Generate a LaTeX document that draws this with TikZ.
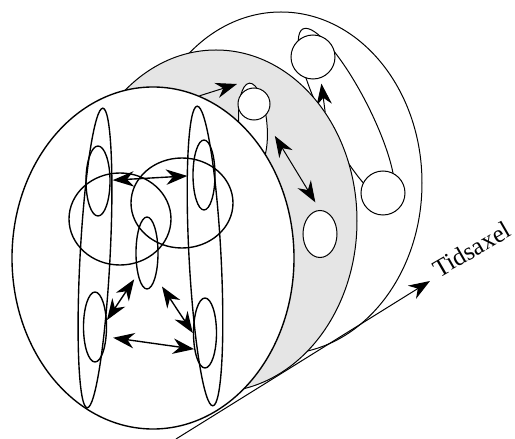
\documentclass[tikz,border=0pt]{standalone}
\usepackage{fontspec}
\setmainfont{Liberation Serif}
\usetikzlibrary{shapes.geometric,arrows.meta}
\pgfdeclarelayer{back}
\pgfdeclarelayer{mid}
\pgfsetlayers{back,mid,main}
\begin{document}
\begin{tikzpicture}[x=0.4pt,y=-0.4pt,line width=0.55pt,
  ell/.style 2 args={ellipse,draw,inner sep=0pt,minimum width=#1*0.8pt,minimum height=#2*0.8pt},
  disc/.style={ell={141}{171},fill=white},
  spot/.style={ell={#1}{#1},fill=white},
  arr/.style={{Stealth[length=8.5pt,width=6.2pt]}-{Stealth[length=8.5pt,width=6.2pt]}},
  arrone/.style={-{Stealth[length=8.5pt,width=6.2pt]}}]
\useasboundingbox (0,0) rectangle (515,439);
\node[disc] (d1) at (153,258) {};
\node[ell={15}{150},rotate=-3] (lt) at (95,258) {};
\node[ell={16}{150},rotate=3] (rt) at (205,256) {};
\node[ell={12}{35}] (lu) at (98,181) {};
\node[ell={11.5}{35}] (ll) at (95,327) {};
\node[ell={11}{35}] (ru) at (204,175) {};
\node[ell={11.5}{35}] (rl) at (205,333) {};
\node[ell={51}{46}] (bl) at (120,219) {};
\node[ell={51}{45}] (br) at (182,203) {};
\node[ell={11}{36}] (m) at (147,253) {};
\draw[arr,shorten <=0.8pt,shorten >=2pt] (lu) -- (ru);
\draw[arr,shorten <=2.6pt] (ll.-40) -- (rl.236);
\draw[arr,shorten <=2.4pt] (m.246) -- (ll.30);
\draw[arr,shorten <=4.5pt] (m.-70) -- (rl.west);
\begin{pgfonlayer}{mid}
\node[disc,fill=gray!20] (d2) at (216,221) {};
\node[ell={14}{42},fill=white,rotate=5] (gt) at (253,125) {};
\node[spot=16] (g1) at (254,104) {};
\node[ell={17}{23.5},fill=white] (g2) at (320,234) {};
\coordinate (gtip) at (237,84);
\draw[arrone] (d1.74) -- (gtip);
\draw[arr,shorten <=5.7pt,shorten >=3.6pt] (gt.0) -- (g2.90);
\end{pgfonlayer}
\begin{pgfonlayer}{back}
\node[disc] (d3) at (281,183) {};
\node[ell={96}{23},fill=white,rotate=-63] (bt) at (346.5,114.5) {};
\node[spot=22] (b1) at (313,57) {};
\node[spot=22] (b2) at (383,193) {};
\draw[arrone,shorten >=2.2pt] (d2.45) -- (b1.-70);
\end{pgfonlayer}
\coordinate (t0) at (176,439);
\coordinate (t1) at (430,281);
\draw[arrone] (t0) -- (t1);
\node[rotate=30,anchor=south west,inner sep=0pt,font=\fontsize{10}{12}\selectfont] (tl) at (439,279) {Tidsaxel};
\end{tikzpicture}
\end{document}
